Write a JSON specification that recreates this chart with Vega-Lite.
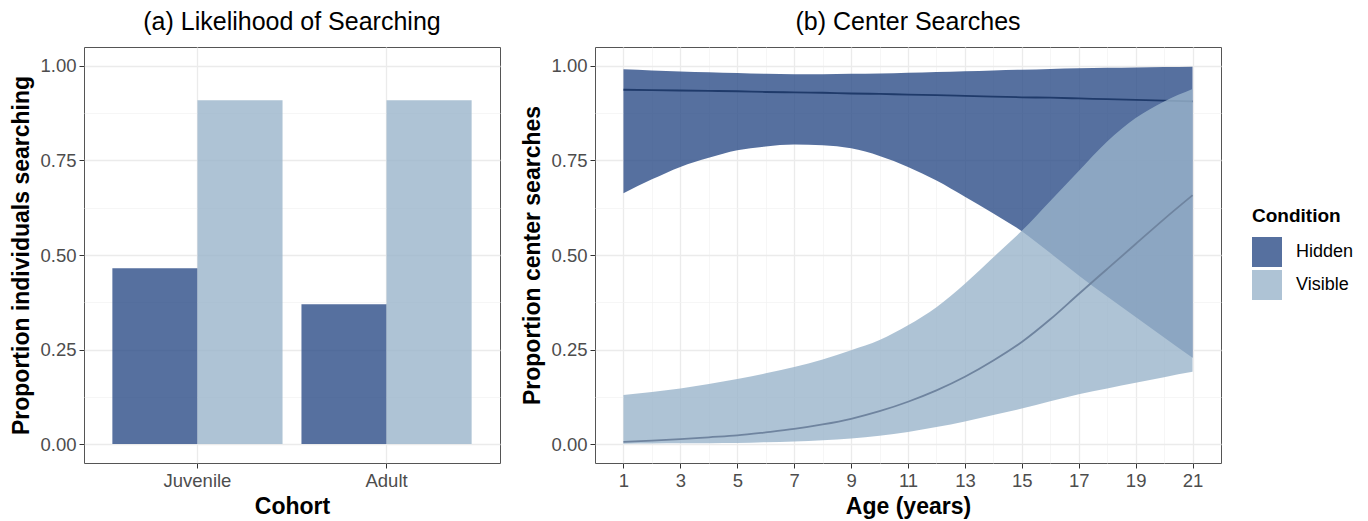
{
  "$schema": "https://vega.github.io/schema/vega-lite/v6.json",
  "background": "white",
  "padding": {"left": 10, "top": 9, "right": 5, "bottom": 5},
  "spacing": 20,
  "datasets": {
    "bars": [
      {"cohort": "Juvenile", "condition": "Hidden", "proportion": 0.465},
      {"cohort": "Juvenile", "condition": "Visible", "proportion": 0.909},
      {"cohort": "Adult", "condition": "Hidden", "proportion": 0.37},
      {"cohort": "Adult", "condition": "Visible", "proportion": 0.909}
    ],
    "ribbons": [
      {"age": 1, "condition": "Hidden", "lower": 0.663, "upper": 0.991, "mean": 0.937},
      {"age": 2, "condition": "Hidden", "lower": 0.700, "upper": 0.988, "mean": 0.936},
      {"age": 3, "condition": "Hidden", "lower": 0.733, "upper": 0.985, "mean": 0.935},
      {"age": 4, "condition": "Hidden", "lower": 0.757, "upper": 0.983, "mean": 0.934},
      {"age": 5, "condition": "Hidden", "lower": 0.777, "upper": 0.981, "mean": 0.933},
      {"age": 6, "condition": "Hidden", "lower": 0.787, "upper": 0.979, "mean": 0.931},
      {"age": 7, "condition": "Hidden", "lower": 0.792, "upper": 0.978, "mean": 0.930},
      {"age": 8, "condition": "Hidden", "lower": 0.790, "upper": 0.978, "mean": 0.929},
      {"age": 9, "condition": "Hidden", "lower": 0.782, "upper": 0.979, "mean": 0.927},
      {"age": 10, "condition": "Hidden", "lower": 0.762, "upper": 0.980, "mean": 0.926},
      {"age": 11, "condition": "Hidden", "lower": 0.733, "upper": 0.982, "mean": 0.924},
      {"age": 12, "condition": "Hidden", "lower": 0.697, "upper": 0.984, "mean": 0.923},
      {"age": 13, "condition": "Hidden", "lower": 0.654, "upper": 0.986, "mean": 0.921},
      {"age": 14, "condition": "Hidden", "lower": 0.610, "upper": 0.988, "mean": 0.919},
      {"age": 15, "condition": "Hidden", "lower": 0.563, "upper": 0.990, "mean": 0.917},
      {"age": 16, "condition": "Hidden", "lower": 0.505, "upper": 0.992, "mean": 0.916},
      {"age": 17, "condition": "Hidden", "lower": 0.446, "upper": 0.994, "mean": 0.914},
      {"age": 18, "condition": "Hidden", "lower": 0.390, "upper": 0.995, "mean": 0.912},
      {"age": 19, "condition": "Hidden", "lower": 0.336, "upper": 0.996, "mean": 0.910},
      {"age": 20, "condition": "Hidden", "lower": 0.282, "upper": 0.997, "mean": 0.908},
      {"age": 21, "condition": "Hidden", "lower": 0.228, "upper": 0.998, "mean": 0.906},
      {"age": 1, "condition": "Visible", "lower": 0.001, "upper": 0.130, "mean": 0.006},
      {"age": 2, "condition": "Visible", "lower": 0.0015, "upper": 0.138, "mean": 0.009},
      {"age": 3, "condition": "Visible", "lower": 0.002, "upper": 0.147, "mean": 0.013},
      {"age": 4, "condition": "Visible", "lower": 0.0025, "upper": 0.159, "mean": 0.018},
      {"age": 5, "condition": "Visible", "lower": 0.003, "upper": 0.172, "mean": 0.023},
      {"age": 6, "condition": "Visible", "lower": 0.005, "upper": 0.187, "mean": 0.031},
      {"age": 7, "condition": "Visible", "lower": 0.007, "upper": 0.204, "mean": 0.040},
      {"age": 8, "condition": "Visible", "lower": 0.010, "upper": 0.224, "mean": 0.052},
      {"age": 9, "condition": "Visible", "lower": 0.015, "upper": 0.248, "mean": 0.067},
      {"age": 10, "condition": "Visible", "lower": 0.022, "upper": 0.275, "mean": 0.087},
      {"age": 11, "condition": "Visible", "lower": 0.032, "upper": 0.314, "mean": 0.112},
      {"age": 12, "condition": "Visible", "lower": 0.045, "upper": 0.362, "mean": 0.142},
      {"age": 13, "condition": "Visible", "lower": 0.060, "upper": 0.424, "mean": 0.178},
      {"age": 14, "condition": "Visible", "lower": 0.077, "upper": 0.494, "mean": 0.221},
      {"age": 15, "condition": "Visible", "lower": 0.094, "upper": 0.564, "mean": 0.270},
      {"age": 16, "condition": "Visible", "lower": 0.113, "upper": 0.643, "mean": 0.330},
      {"age": 17, "condition": "Visible", "lower": 0.132, "upper": 0.722, "mean": 0.397},
      {"age": 18, "condition": "Visible", "lower": 0.147, "upper": 0.800, "mean": 0.463},
      {"age": 19, "condition": "Visible", "lower": 0.162, "upper": 0.862, "mean": 0.529},
      {"age": 20, "condition": "Visible", "lower": 0.177, "upper": 0.906, "mean": 0.595},
      {"age": 21, "condition": "Visible", "lower": 0.191, "upper": 0.939, "mean": 0.658}
    ]
  },
  "hconcat": [
    {
      "width": 416,
      "height": 416,
      "title": {"text": "(a) Likelihood of Searching"},
      "data": {"name": "bars"},
      "mark": {"type": "bar", "opacity": 0.8},
      "encoding": {
        "x": {
          "field": "cohort", "type": "nominal", "sort": ["Juvenile", "Adult"],
          "scale": {"paddingInner": 0.1, "paddingOuter": 0.15},
          "axis": {"title": "Cohort", "labelAngle": 0, "grid": true, "bandPosition": 0.5, "gridWidth": 1.3}
        },
        "xOffset": {"field": "condition", "type": "nominal", "sort": ["Hidden", "Visible"], "scale": {"paddingInner": 0, "paddingOuter": 0}},
        "y": {
          "field": "proportion", "type": "quantitative",
          "scale": {"domain": [-0.05, 1.05], "nice": false, "zero": false},
          "axis": {
            "title": "Proportion individuals searching",
            "values": [0, 0.125, 0.25, 0.375, 0.5, 0.625, 0.75, 0.875, 1],
            "labelExpr": "(datum.value * 4) % 1 == 0 ? format(datum.value, '.2f') : ''",
            "tickOpacity": {"condition": {"test": "(datum.value * 4) % 1 != 0", "value": 0}, "value": 1},
            "gridWidth": {"condition": {"test": "(datum.value * 4) % 1 != 0", "value": 0.7}, "value": 1.3},
            "gridColor": {"condition": {"test": "(datum.value * 4) % 1 != 0", "value": "#F2F2F2"}, "value": "#EBEBEB"}
          }
        },
        "y2": {"datum": 0},
        "color": {
          "field": "condition", "type": "nominal",
          "scale": {"domain": ["Hidden", "Visible"], "range": ["#2C4C87", "#9AB4CA"]},
          "legend": null
        }
      }
    },
    {
      "width": 626,
      "height": 416,
      "title": {"text": "(b) Center Searches"},
      "data": {"name": "ribbons"},
      "encoding": {
        "x": {
          "field": "age", "type": "quantitative",
          "scale": {"domain": [0, 22], "nice": false, "zero": false},
          "axis": {
            "title": "Age (years)",
            "values": [1, 2, 3, 4, 5, 6, 7, 8, 9, 10, 11, 12, 13, 14, 15, 16, 17, 18, 19, 20, 21],
            "labelExpr": "datum.value % 2 == 1 ? datum.value : ''",
            "tickOpacity": {"condition": {"test": "datum.value % 2 == 0", "value": 0}, "value": 1},
            "gridWidth": {"condition": {"test": "datum.value % 2 == 0", "value": 0.7}, "value": 1.3},
            "gridColor": {"condition": {"test": "datum.value % 2 == 0", "value": "#F2F2F2"}, "value": "#EBEBEB"}
          }
        }
      },
      "layer": [
        {
          "transform": [{"filter": "datum.condition == 'Hidden'"}],
          "mark": {"type": "area", "opacity": 0.8, "interpolate": "monotone"},
          "encoding": {
            "y": {
              "field": "lower", "type": "quantitative",
              "scale": {"domain": [-0.05, 1.05], "nice": false, "zero": false},
              "axis": {
                "title": "Proportion center searches",
                "values": [0, 0.125, 0.25, 0.375, 0.5, 0.625, 0.75, 0.875, 1],
                "labelExpr": "(datum.value * 4) % 1 == 0 ? format(datum.value, '.2f') : ''",
                "tickOpacity": {"condition": {"test": "(datum.value * 4) % 1 != 0", "value": 0}, "value": 1},
                "gridWidth": {"condition": {"test": "(datum.value * 4) % 1 != 0", "value": 0.7}, "value": 1.3},
                "gridColor": {"condition": {"test": "(datum.value * 4) % 1 != 0", "value": "#F2F2F2"}, "value": "#EBEBEB"}
              }
            },
            "y2": {"field": "upper"},
            "color": {
              "field": "condition", "type": "nominal",
              "scale": {"domain": ["Hidden", "Visible"], "range": ["#2C4C87", "#9AB4CA"]},
              "legend": {
                "title": "Condition",
                "orient": "none",
                "legendX": 657,
                "legendY": 160,
                "titleFontSize": 19,
                "titleFontWeight": "bold",
                "titleColor": "black",
                "labelFontSize": 18,
                "labelColor": "black",
                "symbolType": "square",
                "symbolSize": 900,
                "symbolOpacity": 0.8,
                "symbolStrokeWidth": 0,
                "rowPadding": 3,
                "labelOffset": 14,
                "titlePadding": 11
              }
            }
          }
        },
        {
          "transform": [{"filter": "datum.condition == 'Hidden'"}],
          "mark": {"type": "line", "color": "#1F3A6A", "strokeWidth": 1.8, "interpolate": "monotone"},
          "encoding": {"y": {"field": "mean", "type": "quantitative"}}
        },
        {
          "transform": [{"filter": "datum.condition == 'Visible'"}],
          "mark": {"type": "area", "opacity": 0.8, "interpolate": "monotone"},
          "encoding": {
            "y": {"field": "lower", "type": "quantitative"},
            "y2": {"field": "upper"},
            "color": {"field": "condition", "type": "nominal"}
          }
        },
        {
          "transform": [{"filter": "datum.condition == 'Visible'"}],
          "mark": {"type": "line", "color": "#6F849F", "strokeWidth": 1.8, "interpolate": "monotone"},
          "encoding": {"y": {"field": "mean", "type": "quantitative"}}
        }
      ]
    }
  ],
  "resolve": {"scale": {"color": "independent"}},
  "config": {
    "font": "Liberation Sans",
    "view": {"stroke": "#555555", "strokeWidth": 1},
    "title": {"fontSize": 25, "fontWeight": "normal", "color": "black", "anchor": "middle", "frame": "group", "offset": 12},
    "axis": {
      "domain": false,
      "labelColor": "#4D4D4D",
      "labelFontSize": 18.5,
      "labelFont": "Liberation Sans",
      "labelPadding": 3,
      "tickColor": "#333333",
      "tickSize": 5,
      "tickWidth": 1,
      "titleFontSize": 23,
      "titleFontWeight": "bold",
      "titleColor": "black",
      "titlePadding": 6,
      "gridColor": "#EBEBEB",
      "labelOverlap": false
    }
  }
}
